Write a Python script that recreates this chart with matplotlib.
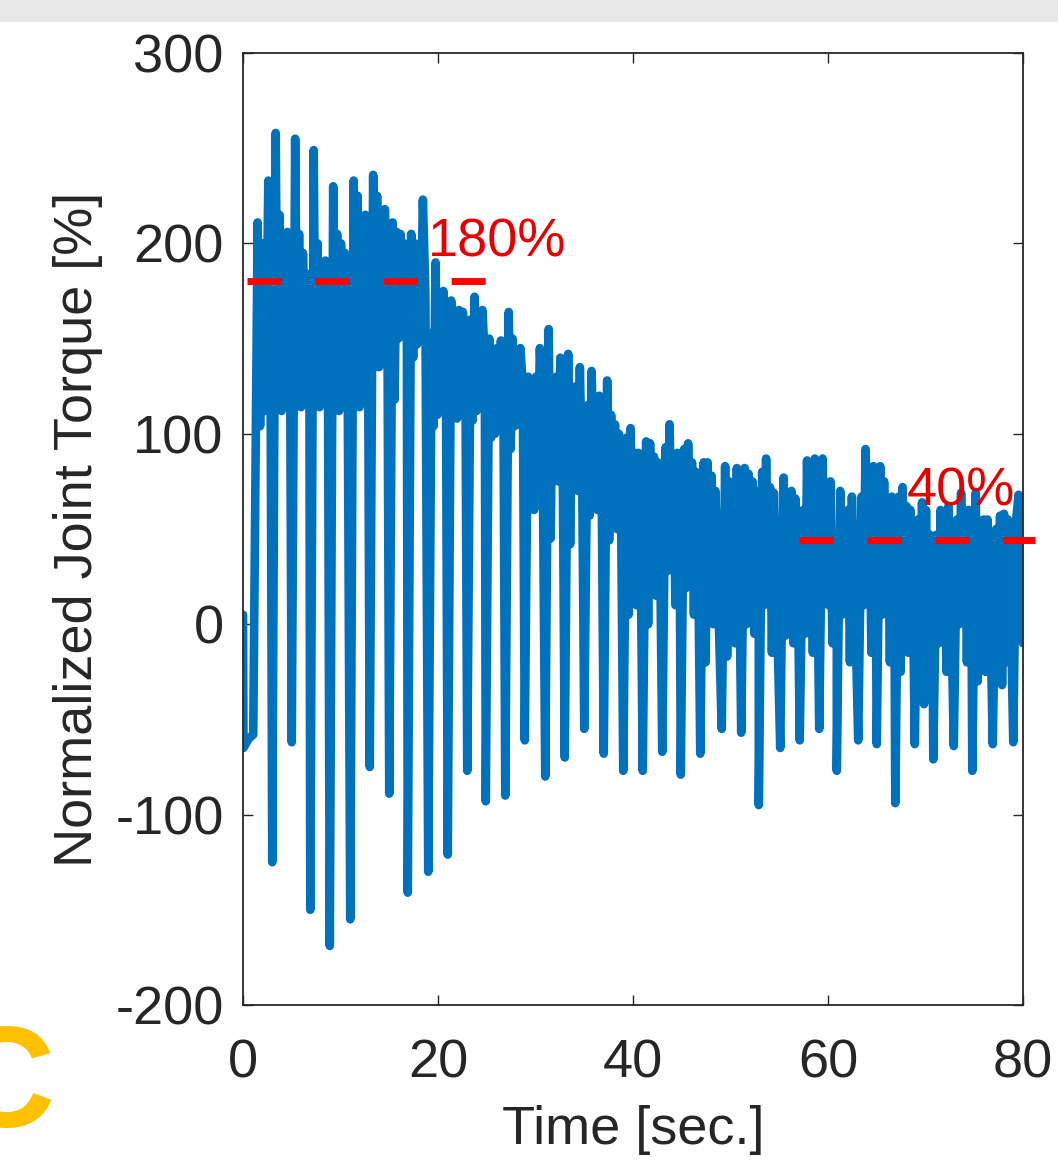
import matplotlib.pyplot as plt
from matplotlib.patches import Rectangle

plt.rcParams['font.family'] = ['Liberation Sans', 'DejaVu Sans']
plt.rcParams['axes.unicode_minus'] = False

# opening part of the record (before the first deep trough)
start_t = [0.0, 0.05, 0.6, 1.05, 1.5, 1.75, 2.05, 2.3, 2.6, 2.8]
start_v = [5, -65, -60, -58, 211, 104, 200, 112, 233, 170]

# one row per gait cycle:
# trough time, trough, first peak, then band highs/lows, level before the next drop
cycle_t = [3.0, 5.0, 6.9, 8.9, 11.0, 13.0, 15.0, 16.9, 19.0, 21.0, 23.0, 24.9,
           26.9, 28.9, 31.0, 33.0, 35.0, 37.0, 39.0, 41.0, 43.0, 44.9, 46.9,
           49.1, 51.1, 52.9, 55.1, 57.1, 59.1, 60.9, 63.1, 65.0, 66.9, 68.9,
           70.8, 72.9, 74.8, 76.9]
trough = [-125, -62, -150, -169, -155, -75, -89, -141, -130, -121, -77, -93,
          -90, -61, -80, -70, -55, -68, -77, -77, -67, -79, -68,
          -55, -57, -95, -65, -61, -55, -77, -61, -63, -94, -63,
          -71, -64, -77, -63]
peak_a = [258, 255, 249, 230, 233, 236, 211, 205, 153, 170, 160, 150,
          164, 130, 155, 142, 115, 128, 98, 96, 93, 92, 85,
          83, 82, 80, 77, 60, 87, 70, 67, 83, 67, 55,
          47, 55, 69, 50]
low_1 = [118, 120, 116, 118, 120, 140, 118, 140, 104, 110, 107, 98,
         92, 98, 45, 42, 57, 44, 5, 0, 28, 19, -20,
         -17, 0, 10, -6, -5, 20, 5, 10, 5, -25, 0,
         -10, 0, -30, 0]
peak_2 = [215, 205, 200, 205, 225, 225, 206, 200, 190, 160, 172, 140,
          150, 124, 125, 120, 133, 110, 103, 95, 105, 95, 85,
          75, 79, 87, 58, 86, 70, 44, 92, 75, 72, 64,
          60, 69, 48, 57]
low_2 = [112, 114, 114, 112, 114, 135, 150, 147, 110, 108, 112, 100,
         104, 60, 98, 95, 90, 80, 40, 34, 50, 45, 30,
         35, 30, 30, 30, 35, 10, 20, 40, 30, 20, -42,
         10, 20, 10, -32]
peak_3 = [200, 195, 190, 200, 210, 212, 205, 195, 170, 165, 155, 145,
          140, 130, 130, 125, 118, 105, 90, 88, 85, 85, 78,
          72, 75, 72, 70, 70, 75, 60, 70, 65, 62, 60,
          55, 60, 55, 58]
low_3 = [150, 145, 140, 145, 160, 160, 165, 160, 125, 120, 125, 110,
         105, 90, 75, 70, 60, 50, 10, 15, 10, 5, 0,
         -10, -5, -15, -10, -15, -10, -20, -15, -20, -15, -20,
         -25, -20, -25, -20]
peak_b = [206, 184, 191, 195, 215, 218, 200, 223, 175, 164, 165, 149,
          145, 145, 140, 135, 120, 100, 90, 85, 90, 80, 70,
          82, 70, 69, 66, 87, 44, 67, 83, 67, 60, 47,
          62, 60, 55, 55]
level_end = [170, 165, 160, 170, 180, 180, 175, 175, 150, 145, 140, 130,
             125, 110, 80, 70, 65, 45, 30, 30, 35, 25, 20,
             25, 30, 20, 25, 30, 20, 25, 20, 25, 20, 15,
             20, 25, 15, 20]

# closing part of the record
end_t = [79.0, 79.3, 79.55, 80.0]
end_v = [-62, 55, 68, -10]

# red reference levels
ref_high = 180
ref_high_span = [0.4, 25.1]
ref_low = 44
ref_low_span = [57.0, 81.2]

sub_phase = [0.0, 0.35, 0.55, 0.75, 0.95, 1.15, 1.35, 1.55, 1.8]

time_s = list(start_t)
torque = list(start_v)
for k, t0 in enumerate(cycle_t):
    vals = [trough[k], peak_a[k], low_1[k], peak_2[k], low_2[k],
            peak_3[k], low_3[k], peak_b[k], level_end[k]]
    for ph, v in zip(sub_phase, vals):
        time_s.append(t0 + ph)
        torque.append(v)
time_s += end_t
torque += end_v

fig = plt.figure(figsize=(10.58, 11.66), dpi=100)
fig.patches.append(Rectangle((0, 1 - 22 / 1166), 1, 22 / 1166, transform=fig.transFigure,
                             facecolor='#e8e8e8', edgecolor='none', zorder=0))

ax = fig.add_axes([243 / 1058, 1 - 1005 / 1166, 780 / 1058, 952 / 1166])
ax.plot(time_s, torque, color='#0072BD', lw=6.2, solid_joinstyle='round',
        solid_capstyle='round', zorder=2)
ax.plot(ref_high_span, [ref_high, ref_high], color='#ff0000', lw=5, ls=(0, (4.9, 4.9)),
        dash_capstyle='butt', zorder=3)
ax.plot(ref_low_span, [ref_low, ref_low], color='#ff0000', lw=5, ls=(0, (4.9, 4.9)),
        dash_capstyle='butt', zorder=3, clip_on=False)
ax.text(19.0, 192.9, '180%', color='#e60000', fontsize=39, va='baseline', zorder=4)
ax.text(68.1, 62.6, '40%', color='#e60000', fontsize=39, va='baseline', zorder=4)

ax.set_xlim(0, 80)
ax.set_ylim(-200, 300)
ax.set_xticks([0, 20, 40, 60, 80])
ax.set_yticks([-200, -100, 0, 100, 200, 300])
ax.tick_params(direction='in', length=7, width=1, top=True, right=True,
               labelsize=39, colors='#262626')
ax.tick_params(axis='x', pad=24)
ax.tick_params(axis='y', pad=14)
for s in ax.spines.values():
    s.set_linewidth(1.3)
    s.set_color('#262626')

ax.set_xlabel('Time [sec.]', fontsize=39, color='#262626')
ax.set_ylabel('Normalized Joint Torque [%]', fontsize=39, color='#262626')
ax.xaxis.set_label_coords(0.5, -0.105)
ax.yaxis.set_label_coords(-0.18, 0.5)

fig.text(-50 / 1058, 1 - 1127 / 1166, 'C', color='#FFC000', fontsize=104,
         fontweight='bold', ha='left', va='baseline')

fig.savefig('out.png', dpi=100)
